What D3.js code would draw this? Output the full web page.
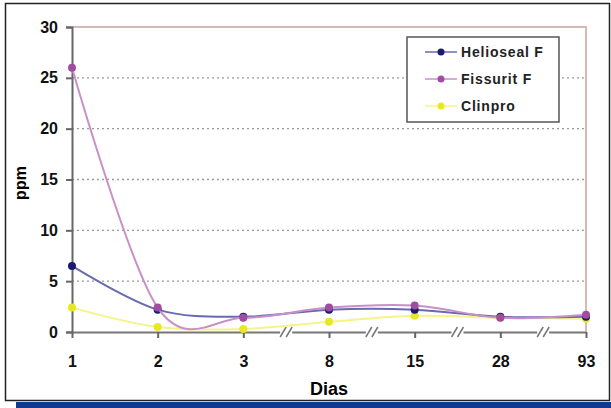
<!DOCTYPE html>
<html><head><meta charset="utf-8">
<script src="https://cdn.jsdelivr.net/npm/d3@7"></script>
<style>body{margin:0;background:#fff}svg{display:block;font-family:"Liberation Sans",Arial,sans-serif}</style>
</head><body><svg id="c" width="611" height="408"></svg>
<script>
const categories = ["1","2","3","8","15","28","93"];
const helioseal = [6.5, 2.2, 1.5, 2.2, 2.2, 1.5, 1.5];
const fissurit  = [26, 2.4, 1.4, 2.4, 2.6, 1.4, 1.7];
const clinpro   = [2.4, 0.5, 0.3, 1.0, 1.6, 1.4, 1.3];
const yTicks = [0,5,10,15,20,25,30];
const seriesNames = ["Helioseal F","Fissurit F","Clinpro"];
const breaks = [["3","8"],["8","15"],["15","28"],["28","93"]];

const svg = d3.select("#c");
// outer frame and blue bar
svg.append("rect").attr("x",16).attr("y",402).attr("width",595).attr("height",6).attr("fill","#0a3d8f");
svg.append("rect").attr("x",5.5).attr("y",3.5).attr("width",604).attr("height",397).attr("fill","none").attr("stroke","#222").attr("stroke-width",1.5);

const x = d3.scalePoint().domain(categories).range([72,586]);
const y = d3.scaleLinear().domain([0,30]).range([332,27]);

// gridlines
svg.append("g").selectAll("line").data(yTicks.filter(t=>t>0&&t<30)).join("line")
  .attr("x1",72).attr("x2",586).attr("y1",d=>y(d)).attr("y2",d=>y(d))
  .attr("stroke","#9a9a9a").attr("stroke-width",1.3).attr("stroke-dasharray","2,3");
// plot border top/right
svg.append("path").attr("d",`M72,${y(30)}H${x("93")}V${y(0)}`).attr("fill","none").attr("stroke","#d8b8b8").attr("stroke-width",2);

// axes
const yAxis = d3.axisLeft(y).tickValues(yTicks).tickSize(6).tickPadding(8);
const gy = svg.append("g").attr("transform","translate(72,0)").call(yAxis);
gy.select(".domain").attr("stroke","#666").attr("stroke-width",2);
gy.selectAll(".tick line").attr("stroke","#666").attr("stroke-width",2);
gy.selectAll("text").attr("font-size",16).attr("font-weight","bold").attr("fill","#111");

const xAxis = d3.axisBottom(x).tickSize(6).tickPadding(18).tickSizeOuter(0);
const gx = svg.append("g").attr("transform",`translate(0,${y(0)})`).call(xAxis);
gx.select(".domain").attr("stroke","#777").attr("stroke-width",2);
gx.selectAll(".tick line").attr("stroke","#666").attr("stroke-width",2);
gx.selectAll("text").attr("font-size",16).attr("font-weight","bold").attr("fill","#111");

// break marks
const bg = svg.append("g");
breaks.forEach(([a,b])=>{
  const mx=(x(a)+x(b))/2, my=y(0);
  bg.append("rect").attr("x",mx-6).attr("y",my-3).attr("width",12).attr("height",6).attr("fill","#fff");
  [-3,3].forEach(o=>bg.append("line").attr("x1",mx+o-3).attr("y1",my+5).attr("x2",mx+o+3).attr("y2",my-5).attr("stroke","#777").attr("stroke-width",1.5));
});

// axis titles
svg.append("text").attr("x",329).attr("y",395).attr("text-anchor","middle").attr("font-size",18).attr("font-weight","bold").text("Dias");
svg.append("text").attr("transform","translate(26,183) rotate(-90)").attr("text-anchor","middle").attr("font-size",16).attr("font-weight","bold").text("ppm");

// series
const series = [
  {name:seriesNames[0], values:helioseal, line:"#6a6ab0", mark:"#1a1a6e"},
  {name:seriesNames[1], values:fissurit, line:"#c890c8", mark:"#a04ca0"},
  {name:seriesNames[2], values:clinpro, line:"#f4f488", mark:"#e8e820"}
];
const line = d3.line().x((d,i)=>x(categories[i])).y(d=>y(d)).curve(d3.curveCardinal.tension(0));
[2,0,1].forEach(k=>{
  const s=series[k];
  svg.append("path").attr("d",line(s.values)).attr("fill","none").attr("stroke",s.line).attr("stroke-width",2);
  svg.append("g").selectAll("circle").data(s.values).join("circle")
    .attr("cx",(d,i)=>x(categories[i])).attr("cy",d=>y(d)).attr("r",4).attr("fill",s.mark);
});

// legend
const lg = svg.append("g");
lg.append("rect").attr("x",407).attr("y",37).attr("width",152).attr("height",85).attr("fill","#fff").attr("stroke","#555").attr("stroke-width",1.5);
series.forEach((s,i)=>{
  const yy=52+i*27;
  lg.append("line").attr("x1",425).attr("x2",457).attr("y1",yy).attr("y2",yy).attr("stroke",s.line).attr("stroke-width",1.5);
  lg.append("circle").attr("cx",441).attr("cy",yy).attr("r",3.5).attr("fill",s.mark);
  lg.append("text").attr("x",461).attr("y",yy+5).attr("font-size",14).attr("letter-spacing",0.8).attr("font-weight","bold").attr("fill","#222").text(s.name);
});
</script></body></html>
